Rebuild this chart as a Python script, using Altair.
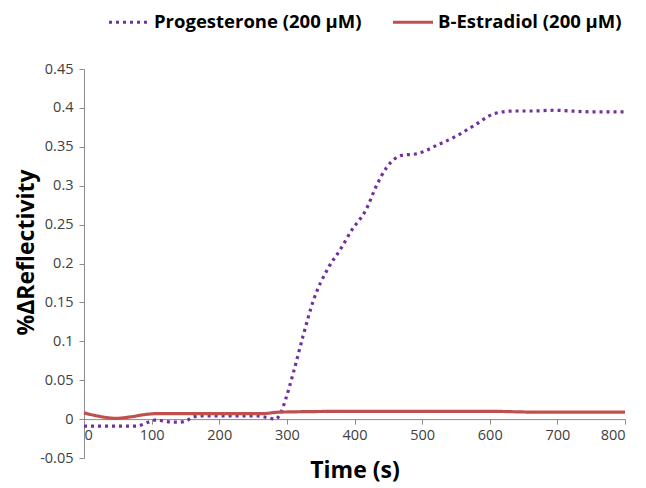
import altair as alt
import pandas as pd

# Progesterone (200 µM)
prog_t = [0, 20, 40, 60, 77, 95, 108, 120, 140, 152, 162, 175, 200, 230, 257, 271, 283,
          292, 298, 310, 324, 339, 361, 379, 396, 417, 433, 448, 470, 492, 522, 551, 578,
          608, 635, 665, 694, 720, 748, 775, 800]
prog_v = [-0.009, -0.009, -0.009, -0.009, -0.009, -0.004, -0.001, -0.003, -0.004, -0.002,
          0.003, 0.004, 0.004, 0.004, 0.004, 0.002, 0.000,
          0.010, 0.025, 0.061, 0.107, 0.152, 0.194, 0.218, 0.243, 0.269, 0.301, 0.324,
          0.339, 0.341, 0.352, 0.364, 0.378, 0.393, 0.396, 0.396, 0.397, 0.396, 0.395,
          0.395, 0.395]

# B-Estradiol (200 µM)
estr_t = [0, 20, 47, 70, 91, 108, 263, 290, 400, 600, 666, 800]
estr_v = [0.008, 0.004, 0.001, 0.003, 0.006, 0.007, 0.007, 0.009, 0.010, 0.010, 0.009, 0.009]

series_names = ["Progesterone (200 µM)", "B-Estradiol (200 µM)"]
series_colors = ["#7030A0", "#C0504D"]

y_ticks = [-0.05, 0, 0.05, 0.1, 0.15, 0.2, 0.25, 0.3, 0.35, 0.4, 0.45]
x_ticks = [0, 100, 200, 300, 400, 500, 600, 700, 800]

df = pd.concat([
    pd.DataFrame({"t": prog_t, "v": prog_v, "s": series_names[0], "o": range(len(prog_t))}),
    pd.DataFrame({"t": estr_t, "v": estr_v, "s": series_names[1], "o": range(len(estr_t))}),
])

FONT = "Open Sans"
PLOT_H = 389

legend_cfg = dict(title=None, orient="none", legendX=23, legendY=-69,
                  direction="horizontal", symbolType="stroke",
                  symbolSize=1600, symbolStrokeWidth=3.2,
                  labelFont=FONT, labelFontSize=18.5,
                  labelFontWeight="bold", labelColor="#000000",
                  labelOffset=3, columnPadding=24, padding=0,
                  labelLimit=400)

chart = alt.Chart(df).mark_line(strokeWidth=3.2, interpolate="monotone").encode(
    x=alt.X("t:Q",
            scale=alt.Scale(domain=[0, 800], nice=False, zero=False),
            axis=alt.Axis(values=x_ticks, title="Time (s)", offset=-PLOT_H / 10,
                          grid=False, tickSize=5, labelPadding=4,
                          titleY=51, titleBaseline="middle",
                          titleFontSize=23, titleFont=FONT, titleFontWeight="bold",
                          titleColor="#000000")),
    y=alt.Y("v:Q",
            scale=alt.Scale(domain=[-0.05, 0.45], nice=False, zero=False),
            axis=alt.Axis(values=y_ticks, title="%ΔReflectivity",
                          labelExpr="replace(format(datum.value, '.2~f'), '\u2212', '-')",
                          grid=False, tickSize=5, labelPadding=6,
                          titleX=-58, titleY=183, titleAngle=-90,
                          titleAlign="center", titleBaseline="middle",
                          titleFontSize=23, titleFont=FONT, titleFontWeight="bold",
                          titleColor="#000000")),
    color=alt.Color("s:N", scale=alt.Scale(domain=series_names, range=series_colors),
                    legend=alt.Legend(**legend_cfg)),
    strokeDash=alt.StrokeDash("s:N", scale=alt.Scale(domain=series_names,
                                                      range=[[3, 4], [1, 0]]),
                              legend=alt.Legend(**legend_cfg)),
    order="o:Q",
).properties(
    width=541, height=PLOT_H,
    autosize=alt.AutoSizeParams(type="none"),
    padding={"left": 76, "top": 61, "right": 13, "bottom": 40},
).configure_axis(
    labelFont=FONT, labelFontSize=14.5, labelColor="#404040",
    domainColor="#8c8c8c", tickColor="#8c8c8c",
).configure_view(stroke=None)

chart.save("out.html", embed_options={"renderer": "svg", "actions": False})
